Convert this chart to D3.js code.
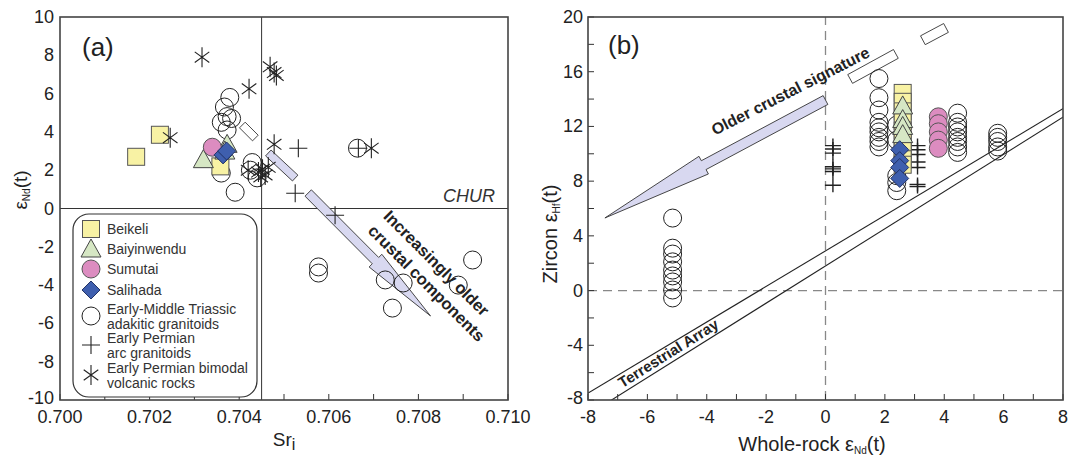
<!DOCTYPE html>
<html>
<head>
<meta charset="utf-8">
<script src="https://cdn.jsdelivr.net/npm/d3@7"></script>
<style>
  body { margin: 0; background: #fff; }
  text { font-family: "Liberation Sans", Arial, sans-serif; fill: #222; }
</style>
</head>
<body>
<svg id="chart"></svg>
<script>
// ---- panel (a) data: Sr initial ratio vs eNd(t)
const beikeliA = [[0.7017, 2.7], [0.70223, 3.85], [0.70358, 2.2]];
const baiyinA = [[0.7032, 2.55], [0.70373, 3.35], [0.70368, 3.0]];
const sumutaiA = [[0.7034, 3.2]];
const salihadaA = [[0.70364, 2.8], [0.70372, 3.0]];
const triassicA = [[0.70379, 5.8], [0.70367, 5.3], [0.70373, 4.8], [0.70383, 4.7], [0.70360, 4.5],
  [0.70373, 4.1], [0.70429, 2.4], [0.70425, 2.0], [0.70360, 1.85], [0.70391, 0.85], [0.70440, 1.6],
  [0.70664, 3.15], [0.70577, -3.05], [0.70577, -3.37], [0.70726, -3.73], [0.70766, -3.89],
  [0.70742, -5.2], [0.70889, -4.0], [0.70921, -2.69]];
const arcA = [[0.70532, 3.15], [0.70525, 0.8], [0.70666, 3.15], [0.70614, -0.35]];
const bimodalA = [[0.70317, 7.9], [0.70246, 3.7], [0.70422, 6.25], [0.70469, 7.4], [0.70478, 7.1],
  [0.70483, 6.95], [0.70478, 3.35], [0.70695, 3.15], [0.70420, 2.0], [0.70443, 1.9], [0.70452, 2.05],
  [0.70458, 1.75], [0.70465, 2.15], [0.70448, 1.65]];
const churSr = 0.7045;
const srTicks = [0.700, 0.701, 0.702, 0.703, 0.704, 0.705, 0.706, 0.707, 0.708, 0.709, 0.710];
const srLabels = ["0.700", "0.702", "0.704", "0.706", "0.708", "0.710"];
const ndTicksA = [10, 8, 6, 4, 2, 0, -2, -4, -6, -8, -10];
// arrow pieces in (a), data coordinates [start, end]
const arrowBarsA = [[[0.70407, 4.36], [0.70436, 3.68]], [[0.70465, 2.9], [0.70525, 1.59]]];
const arrowA = [[0.70554, 0.81], [0.70827, -5.61]];
const arrowTextA = [[0.70838, -2.9], [0.70816, -3.95]];

// ---- panel (b) data: whole-rock eNd(t) vs zircon eHf(t)
const triassicB = [
  [-5.15, 5.3], [-5.15, 3.1], [-5.15, 2.67], [-5.15, 2.1], [-5.15, 1.5], [-5.15, 1.07], [-5.15, 0.63], [-5.15, 0.04], [-5.15, -0.54],
  [1.8, 15.5], [1.8, 14.1], [1.8, 13.2], [1.8, 12.3], [1.8, 11.9], [1.8, 11.6], [1.8, 11.2], [1.8, 10.9], [1.8, 10.5],
  [2.4, 12.1], [2.4, 11.0], [2.4, 8.4], [2.4, 7.9], [2.4, 7.3],
  [4.45, 12.97], [4.45, 12.3], [4.45, 11.96], [4.45, 11.6], [4.45, 11.2], [4.45, 10.9], [4.45, 10.5], [4.45, 10.1],
  [5.8, 11.5], [5.8, 11.2], [5.8, 10.9], [5.8, 10.5], [5.8, 10.2]];
const arcB = [[0.25, 10.6], [0.25, 10.35], [0.25, 10.05], [0.25, 9.05], [0.25, 8.9], [0.25, 8.7], [0.25, 7.7],
  [3.1, 10.6], [3.1, 10.3], [3.1, 9.95], [3.1, 9.4], [3.1, 9.0], [3.1, 7.75], [3.1, 7.6]];
const beikeliB = [[2.6, 14.45], [2.6, 13.8], [2.6, 13.1], [2.6, 12.4], [2.6, 11.7], [2.6, 11.0], [2.6, 10.3], [2.6, 9.6], [2.6, 9.2]];
const baiyinB = [[2.6, 13.5], [2.6, 12.5], [2.6, 12.0], [2.6, 11.4]];
const sumutaiB = [[3.8, 12.7], [3.8, 12.2], [3.8, 11.6], [3.8, 11.0], [3.8, 10.4]];
const salihadaB = [[2.5, 10.3], [2.5, 9.5], [2.5, 9.0], [2.5, 8.2]];
const ndTicksB = [-8, -7, -6, -5, -4, -3, -2, -1, 0, 1, 2, 3, 4, 5, 6, 7, 8];
const ndLabelsB = [-8, -6, -4, -2, 0, 2, 4, 6, 8];
const hfTicks = [-8, -6, -4, -2, 0, 2, 4, 6, 8, 10, 12, 14, 16, 18, 20];
const hfLabels = [-8, -4, 0, 4, 8, 12, 16, 20];
// terrestrial array: [slope, intercept]
const terrestrial = [[1.3, 2.9], [1.36, 1.8]];
const arrowBarsB = [[[0.83, 15.47], [2.37, 17.3]], [[3.28, 18.3], [4.06, 19.2]]];
const arrowB = [[0.0, 13.93], [-7.43, 5.31]];
const arrowTextB = [-1.16, 14.5];
const terrTextB = [-5.27, -4.66];

const legendItems = [
  {sym: "square", lines: ["Beikeli"]},
  {sym: "triangle", lines: ["Baiyinwendu"]},
  {sym: "pink", lines: ["Sumutai"]},
  {sym: "diamond", lines: ["Salihada"]},
  {sym: "circle", lines: ["Early-Middle Triassic", "adakitic granitoids"]},
  {sym: "plus", lines: ["Early Permian", "arc granitoids"]},
  {sym: "star", lines: ["Early Permian bimodal", "volcanic rocks"]}
];

const width = 1069, height = 458;
const svg = d3.select("#chart").attr("width", width).attr("height", height);

const colors = {square: "#f8f2a4", triangle: "#d6e7c4", pink: "#dc8cc0", diamond: "#3f5fae", lav: "#d8d8f0"};
const ink = "#222";

// draw a symbol at pixel position
function drawSym(g, type, x, y) {
  if (type === "square") {
    g.append("rect").attr("x", x - 8.5).attr("y", y - 8.5).attr("width", 17).attr("height", 17)
      .attr("fill", colors.square).attr("stroke", "#555").attr("stroke-width", 1);
  } else if (type === "triangle") {
    g.append("path").attr("d", `M${x},${y - 10}L${x + 10},${y + 8}L${x - 10},${y + 8}Z`)
      .attr("fill", colors.triangle).attr("stroke", "#444").attr("stroke-width", 1);
  } else if (type === "pink") {
    g.append("circle").attr("cx", x).attr("cy", y).attr("r", 9)
      .attr("fill", colors.pink).attr("stroke", "#555").attr("stroke-width", 1);
  } else if (type === "diamond") {
    g.append("path").attr("d", `M${x},${y - 9}L${x + 9},${y}L${x},${y + 9}L${x - 9},${y}Z`)
      .attr("fill", colors.diamond).attr("stroke", "#223366").attr("stroke-width", 1);
  } else if (type === "circle") {
    g.append("circle").attr("cx", x).attr("cy", y).attr("r", 9)
      .attr("fill", "none").attr("stroke", ink).attr("stroke-width", 1);
  } else if (type === "plus") {
    g.append("path").attr("d", `M${x - 9},${y}H${x + 9}M${x},${y - 9}V${y + 9}`)
      .attr("stroke", ink).attr("stroke-width", 1.1).attr("fill", "none");
  } else if (type === "plusB") {
    g.append("path").attr("d", `M${x - 8},${y}H${x + 8}M${x},${y - 7}V${y + 7}`)
      .attr("stroke", ink).attr("stroke-width", 1.4).attr("fill", "none");
  } else if (type === "star") {
    const dx = 9 * Math.cos(Math.PI / 5), dy = 9 * Math.sin(Math.PI / 5);
    g.append("path").attr("d", `M${x},${y - 10}V${y + 10}M${x - dx},${y - dy}L${x + dx},${y + dy}M${x - dx},${y + dy}L${x + dx},${y - dy}`)
      .attr("stroke", ink).attr("stroke-width", 1.1).attr("fill", "none");
  }
}

function bar(g, a, b, w, fill) {
  const len = Math.hypot(b[0] - a[0], b[1] - a[1]);
  const ux = (b[0] - a[0]) / len, uy = (b[1] - a[1]) / len;
  const nx = -uy * w, ny = ux * w;
  const pts = [[a[0] + nx, a[1] + ny], [b[0] + nx, b[1] + ny], [b[0] - nx, b[1] - ny], [a[0] - nx, a[1] - ny]];
  g.append("polygon").attr("points", pts.map(p => p.join(",")).join(" "))
    .attr("fill", fill).attr("stroke", "#333").attr("stroke-width", 0.9);
}

function arrow(g, a, tip, w, headLen, headW, fill) {
  const len = Math.hypot(tip[0] - a[0], tip[1] - a[1]);
  const ux = (tip[0] - a[0]) / len, uy = (tip[1] - a[1]) / len;
  const nx = -uy, ny = ux;
  const bx = tip[0] - ux * headLen, by = tip[1] - uy * headLen;
  const pts = [
    [a[0] + nx * w, a[1] + ny * w], [bx + nx * w, by + ny * w], [bx + nx * headW, by + ny * headW], tip,
    [bx - nx * headW, by - ny * headW], [bx - nx * w, by - ny * w], [a[0] - nx * w, a[1] - ny * w]];
  g.append("polygon").attr("points", pts.map(p => p.join(",")).join(" "))
    .attr("fill", fill).attr("stroke", "#333").attr("stroke-width", 0.9);
}

// ================= panel (a) =================
const xa = d3.scaleLinear().domain([0.700, 0.710]).range([60, 508]);
const ya = d3.scaleLinear().domain([-10, 10]).range([400, 17]);
const ga = svg.append("g");

// CHUR reference lines
ga.append("line").attr("x1", xa(0.700)).attr("x2", xa(0.710)).attr("y1", ya(0)).attr("y2", ya(0))
  .attr("stroke", "#333").attr("stroke-width", 1);
ga.append("line").attr("x1", xa(churSr)).attr("x2", xa(churSr)).attr("y1", ya(-10)).attr("y2", ya(10))
  .attr("stroke", "#333").attr("stroke-width", 1);

// ticks (inward)
ga.selectAll(".tx").data(srTicks).enter().append("line")
  .attr("x1", d => xa(d)).attr("x2", d => xa(d)).attr("y1", ya(-10)).attr("y2", ya(-10) - 6)
  .attr("stroke", "#333").attr("stroke-width", 1);
ga.selectAll(".lx").data(srLabels).enter().append("text")
  .attr("x", d => xa(+d)).attr("y", 423).attr("text-anchor", "middle")
  .style("font-size", "18px").text(d => d);
ga.selectAll(".ly").data(ndTicksA).enter().append("text")
  .attr("x", 54).attr("y", d => ya(d) + 6 - (d === -10 ? 2 : 0)).attr("text-anchor", "end")
  .style("font-size", "18px").text(d => d);

// arrow (a)
arrowBarsA.forEach((b, i) => bar(ga, [xa(b[0][0]), ya(b[0][1])], [xa(b[1][0]), ya(b[1][1])], 4, i === 0 ? "#fff" : colors.lav));
arrow(ga, [xa(arrowA[0][0]), ya(arrowA[0][1])], [xa(arrowA[1][0]), ya(arrowA[1][1])], 4.5, 78, 9, colors.lav);

// points
triassicA.forEach(d => drawSym(ga, "circle", xa(d[0]), ya(d[1])));
beikeliA.forEach(d => drawSym(ga, "square", xa(d[0]), ya(d[1])));
baiyinA.forEach(d => drawSym(ga, "triangle", xa(d[0]), ya(d[1])));
sumutaiA.forEach(d => drawSym(ga, "pink", xa(d[0]), ya(d[1])));
salihadaA.forEach(d => drawSym(ga, "diamond", xa(d[0]), ya(d[1])));
arcA.forEach(d => drawSym(ga, "plus", xa(d[0]), ya(d[1])));
bimodalA.forEach(d => drawSym(ga, "star", xa(d[0]), ya(d[1])));

// arrow text
const txtA = ["Increasingly older", "crustal components"];
txtA.forEach((t, i) => {
  const p = arrowTextA[i];
  ga.append("text").attr("transform", `translate(${xa(p[0])},${ya(p[1])}) rotate(45)`)
    .attr("text-anchor", "middle").attr("dominant-baseline", "middle")
    .style("font-size", "16.5px").style("font-weight", "bold").text(t);
});

ga.append("text").attr("x", 495).attr("y", 202).attr("text-anchor", "end")
  .style("font-size", "18px").style("font-style", "italic").style("fill", "#333").text("CHUR");

// legend
const leg = ga.append("g");
leg.append("rect").attr("x", 73).attr("y", 214).attr("width", 184).attr("height", 183).attr("rx", 16)
  .attr("fill", "#fff").attr("stroke", "#333").attr("stroke-width", 1.2);
const legRows = [229, 249, 269, 290, 316, 345, 375];
legendItems.forEach((it, i) => {
  const y = legRows[i];
  drawSym(leg, it.sym, 91, y);
  it.lines.forEach((l, j) => {
    const ty = it.lines.length === 1 ? y + 5 : y - 2 + j * 15;
    leg.append("text").attr("x", 107).attr("y", ty).style("font-size", "14px").style("fill", "#333").text(l);
  });
});

// frame
ga.append("rect").attr("x", 60).attr("y", 17).attr("width", 448).attr("height", 383)
  .attr("fill", "none").attr("stroke", "#444").attr("stroke-width", 1.6);

ga.append("text").attr("x", 82).attr("y", 56).style("font-size", "26px").text("(a)");

// axis titles
const sxl = ga.append("text").attr("x", 284).attr("y", 446).attr("text-anchor", "middle").style("font-size", "19px");
sxl.append("tspan").text("Sr");
sxl.append("tspan").attr("dy", 4).style("font-size", "16px").text("i");
const syl = ga.append("text").attr("transform", "translate(27,190) rotate(-90)").attr("text-anchor", "middle").style("font-size", "19px");
syl.append("tspan").text("ε");
syl.append("tspan").attr("dy", 3).style("font-size", "10px").text("Nd");
syl.append("tspan").attr("dy", -3).text("(t)");

// ================= panel (b) =================
const xb = d3.scaleLinear().domain([-8, 8]).range([588, 1063]);
const yb = d3.scaleLinear().domain([-8, 20]).range([400, 17]);
const gb = svg.append("g");

svg.append("clipPath").attr("id", "clipb").append("rect")
  .attr("x", 588).attr("y", 17).attr("width", 475).attr("height", 383);

// dashed zero lines
gb.append("line").attr("x1", xb(-8)).attr("x2", xb(8)).attr("y1", yb(0)).attr("y2", yb(0))
  .attr("stroke", "#888").attr("stroke-width", 1.3).attr("stroke-dasharray", "9,6");
gb.append("line").attr("x1", xb(0)).attr("x2", xb(0)).attr("y1", yb(-8)).attr("y2", yb(20))
  .attr("stroke", "#888").attr("stroke-width", 1.3).attr("stroke-dasharray", "9,6");

// terrestrial array
const tl = gb.append("g").attr("clip-path", "url(#clipb)");
terrestrial.forEach(t => {
  tl.append("line").attr("x1", xb(-9)).attr("y1", yb(t[0] * -9 + t[1]))
    .attr("x2", xb(9)).attr("y2", yb(t[0] * 9 + t[1]))
    .attr("stroke", ink).attr("stroke-width", 1.1);
});
gb.append("text").attr("transform", `translate(${xb(terrTextB[0])},${yb(terrTextB[1])}) rotate(-32)`)
  .attr("text-anchor", "middle").attr("dominant-baseline", "middle")
  .style("font-size", "15px").style("font-weight", "bold").text("Terrestrial Array");

// ticks
gb.selectAll(".tbx").data(ndTicksB).enter().append("line")
  .attr("x1", d => xb(d)).attr("x2", d => xb(d)).attr("y1", yb(-8)).attr("y2", yb(-8) - 6)
  .attr("stroke", "#333").attr("stroke-width", 1);
gb.selectAll(".tby").data(hfTicks).enter().append("line")
  .attr("x1", xb(-8)).attr("x2", xb(-8) + 6).attr("y1", d => yb(d)).attr("y2", d => yb(d))
  .attr("stroke", "#333").attr("stroke-width", 1);
gb.selectAll(".lbx").data(ndLabelsB).enter().append("text")
  .attr("x", d => xb(d)).attr("y", 423).attr("text-anchor", "middle")
  .style("font-size", "18px").text(d => d);
gb.selectAll(".lby").data(hfLabels).enter().append("text")
  .attr("x", 583).attr("y", d => yb(d) + 6 - (d === -8 ? 2 : 0)).attr("text-anchor", "end")
  .style("font-size", "18px").text(d => d);

// arrow (b)
arrowBarsB.forEach(b => bar(gb, [xb(b[0][0]), yb(b[0][1])], [xb(b[1][0]), yb(b[1][1])], 5, "#fff"));
arrow(gb, [xb(arrowB[0][0]), yb(arrowB[0][1])], [xb(arrowB[1][0]), yb(arrowB[1][1])], 5, 112, 10, colors.lav);
gb.append("text").attr("transform", `translate(${xb(arrowTextB[0])},${yb(arrowTextB[1])}) rotate(-27)`)
  .attr("text-anchor", "middle").attr("dominant-baseline", "middle")
  .style("font-size", "16px").style("font-weight", "bold").text("Older crustal signature");

// points
triassicB.forEach(d => drawSym(gb, "circle", xb(d[0]), yb(d[1])));
arcB.forEach(d => drawSym(gb, "plusB", xb(d[0]), yb(d[1])));
beikeliB.forEach(d => drawSym(gb, "square", xb(d[0]), yb(d[1])));
baiyinB.forEach(d => drawSym(gb, "triangle", xb(d[0]), yb(d[1])));
sumutaiB.forEach(d => drawSym(gb, "pink", xb(d[0]), yb(d[1])));
salihadaB.forEach(d => drawSym(gb, "diamond", xb(d[0]), yb(d[1])));

gb.append("rect").attr("x", 588).attr("y", 17).attr("width", 475).attr("height", 383)
  .attr("fill", "none").attr("stroke", "#444").attr("stroke-width", 1.6);
gb.append("text").attr("x", 608).attr("y", 54).style("font-size", "26px").text("(b)");

const bxl = gb.append("text").attr("x", 812).attr("y", 451).attr("text-anchor", "middle").style("font-size", "20px");
bxl.append("tspan").text("Whole-rock ε");
bxl.append("tspan").attr("dy", 3).style("font-size", "10px").text("Nd");
bxl.append("tspan").attr("dy", -3).text("(t)");
const byl = gb.append("text").attr("transform", "translate(557,234) rotate(-90)").attr("text-anchor", "middle").style("font-size", "20px");
byl.append("tspan").text("Zircon ε");
byl.append("tspan").attr("dy", 3).style("font-size", "10px").text("Hf");
byl.append("tspan").attr("dy", -3).text("(t)");
</script>
</body>
</html>
